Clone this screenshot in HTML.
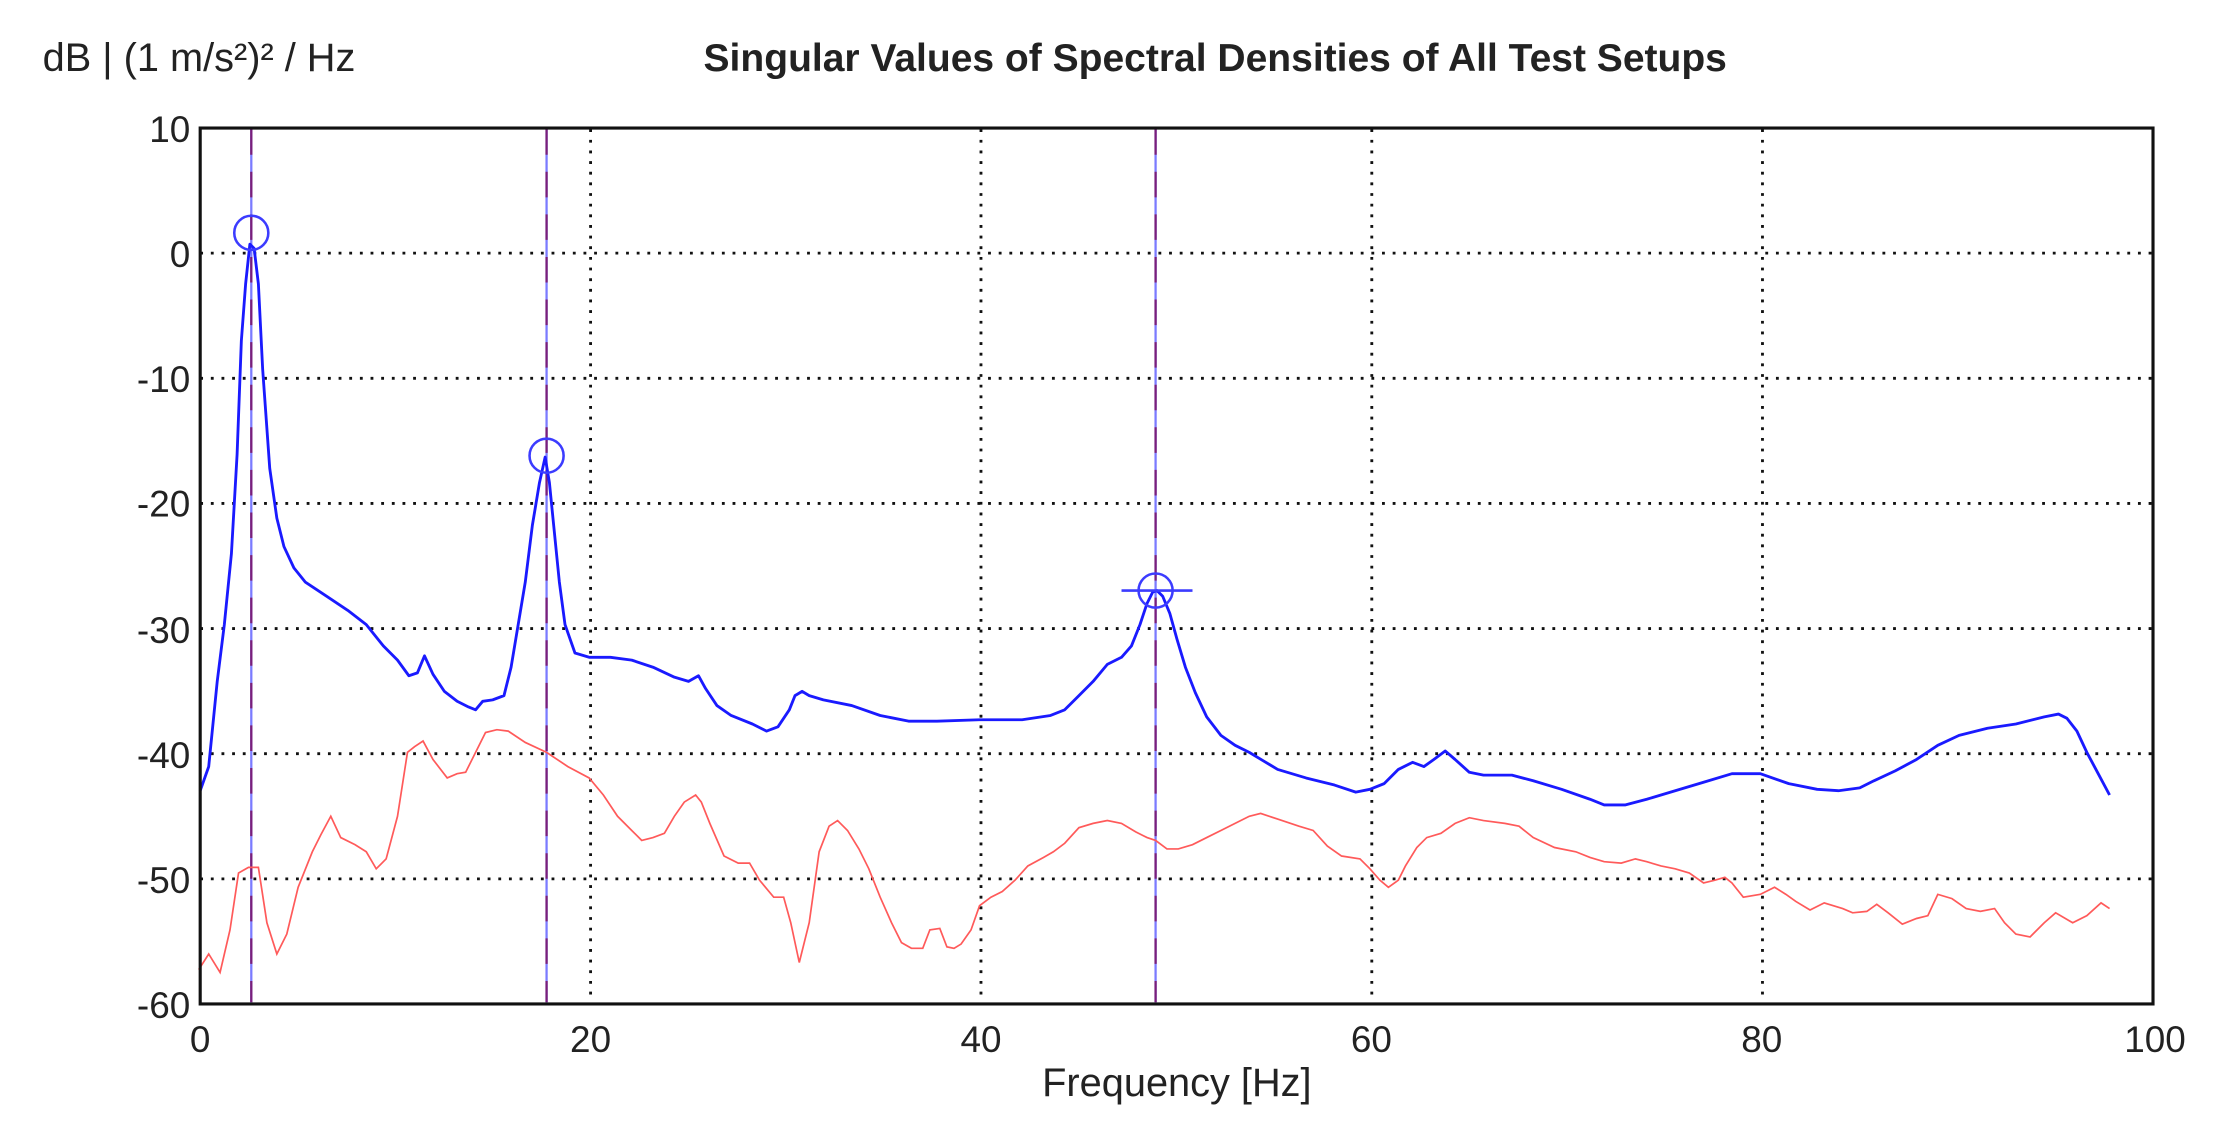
<!DOCTYPE html>
<html><head><meta charset="utf-8"><style>
html,body{margin:0;padding:0;background:#fff;}
svg{display:block;}
text{font-family:"Liberation Sans",Arial,sans-serif;fill:#222;}
</style></head><body>
<svg width="2226" height="1132" viewBox="0 0 1568 797.4" xmlns="http://www.w3.org/2000/svg">
<rect x="0" y="0" width="1568" height="797.4" fill="#fff"/>
<text x="30" y="50" font-size="28">dB | (1 m/s²)² / Hz</text>
<text x="856" y="50" font-size="27.5" font-weight="bold" text-anchor="middle">Singular Values of Spectral Densities of All Test Setups</text>
<g stroke="#111" stroke-width="2" stroke-dasharray="2 5.5" fill="none">
<line x1="416" y1="91" x2="416" y2="706"/>
<line x1="691" y1="91" x2="691" y2="706"/>
<line x1="966.3" y1="91" x2="966.3" y2="706"/>
<line x1="1241.5" y1="91" x2="1241.5" y2="706"/>
<line x1="141" y1="178.3" x2="1516" y2="178.3"/>
<line x1="141" y1="266.5" x2="1516" y2="266.5"/>
<line x1="141" y1="354.6" x2="1516" y2="354.6"/>
<line x1="141" y1="442.8" x2="1516" y2="442.8"/>
<line x1="141" y1="530.9" x2="1516" y2="530.9"/>
<line x1="141" y1="619.1" x2="1516" y2="619.1"/>
</g>
<g stroke-width="1.6">
<line x1="177" y1="91" x2="177" y2="706" stroke="#7b7bff"/>
<line x1="385" y1="91" x2="385" y2="706" stroke="#7b7bff"/>
<line x1="814" y1="91" x2="814" y2="706" stroke="#7b7bff"/>
<line x1="177" y1="91" x2="177" y2="706" stroke="#7a1f7a" stroke-dasharray="18 12"/>
<line x1="385" y1="91" x2="385" y2="706" stroke="#7a1f7a" stroke-dasharray="18 12"/>
<line x1="814" y1="91" x2="814" y2="706" stroke="#7a1f7a" stroke-dasharray="18 12"/>
</g>
<polyline fill="none" stroke="#ff5a5a" stroke-width="1.2" points="140,683 147,672 155,685 162,655 168,615 175,611 182,611 188,650 195,672 202,658 210,625 220,600 226,588 233,575 240,590 250,595 258,600 265,612 272,605 280,575 287,530 292,526 298,522 305,535 315,548 322,545 328,544 335,530 342,516 350,514 358,515 370,523 385,530 400,540 415,548 425,560 435,575 445,585 452,592 460,590 468,587 475,575 482,565 490,560 494,565 500,580 510,603 520,608 528,608 535,620 545,632 552,632 557,650 563,678 570,650 577,600 584,582 590,578 597,585 605,598 612,612 620,632 628,650 635,664 642,668 650,668 655,655 662,654 667,667 672,668 677,665 684,655 690,638 698,632 706,628 715,620 724,610 735,604 742,600 750,594 760,583 770,580 780,578 790,580 800,586 808,590 814,592 822,598 830,598 840,595 850,590 860,585 870,580 880,575 888,573 900,577 915,582 925,585 935,596 945,603 958,605 965,612 972,620 978,625 985,620 990,610 998,597 1005,590 1015,587 1025,580 1035,576 1045,578 1060,580 1070,582 1080,590 1095,597 1110,600 1120,604 1130,607 1142,608 1152,605 1160,607 1170,610 1180,612 1190,615 1200,622 1208,620 1215,618 1220,622 1228,632 1240,630 1250,625 1258,630 1265,635 1275,641 1285,636 1298,640 1305,643 1315,642 1322,637 1330,643 1340,651 1350,647 1358,645 1365,630 1375,633 1385,640 1395,642 1405,640 1412,650 1420,658 1430,660 1440,650 1448,643 1460,650 1470,645 1480,636 1486,640"/>
<polyline fill="none" stroke="#1a1aff" stroke-width="2" stroke-linejoin="round" points="141,557 147,540 153,480 158,440 163,390 167,320 170,240 173,200 176,172 179,175 182,200 185,260 190,330 195,365 200,385 207,400 215,410 230,420 245,430 258,440 270,455 280,465 288,476 294,474 299,462 305,475 313,487 322,494 330,498 335,500 340,494 347,493 355,490 360,470 365,440 370,410 375,370 380,340 384,322 387,340 390,370 394,410 398,440 405,460 415,463 430,463 445,465 460,470 475,477 485,480 492,476 497,485 505,497 515,504 530,510 540,515 548,512 556,500 560,490 565,487 570,490 580,493 600,497 620,504 640,508 660,508 690,507 720,507 740,504 750,500 760,490 770,480 780,468 790,463 797,455 803,440 808,425 812,417 815,416 819,420 824,432 829,450 835,470 842,488 850,505 860,518 870,525 880,530 890,536 900,542 920,548 940,553 955,558 965,556 975,552 985,542 995,537 1003,540 1010,535 1018,529 1025,535 1035,544 1045,546 1065,546 1080,550 1100,556 1120,563 1130,567 1145,567 1160,563 1180,557 1200,551 1220,545 1240,545 1260,552 1280,556 1295,557 1310,555 1320,550 1335,543 1350,535 1365,525 1380,518 1400,513 1420,510 1440,505 1450,503 1456,506 1463,515 1470,530 1478,545 1486,560"/>
<g fill="none" stroke="#3c3cff" stroke-width="1.8">
<circle cx="177" cy="164" r="12"/>
<circle cx="385" cy="321" r="12"/>
<circle cx="814" cy="416" r="12"/>
<line x1="790" y1="416" x2="840" y2="416"/>
</g>
<rect x="141" y="90.2" width="1375.6" height="617" fill="none" stroke="#111" stroke-width="2.2"/>
<g font-size="26" text-anchor="end">
<text x="134" y="100">10</text>
<text x="134" y="188">0</text>
<text x="134" y="276">-10</text>
<text x="134" y="364">-20</text>
<text x="134" y="453">-30</text>
<text x="134" y="541">-40</text>
<text x="134" y="629">-50</text>
<text x="134" y="717">-60</text>
</g>
<g font-size="26" text-anchor="middle">
<text x="141" y="741">0</text>
<text x="416" y="741">20</text>
<text x="691" y="741">40</text>
<text x="966" y="741">60</text>
<text x="1241" y="741">80</text>
<text x="1518" y="741">100</text>
<text x="829" y="772" font-size="28">Frequency [Hz]</text>
</g>
</svg>
</body></html>
